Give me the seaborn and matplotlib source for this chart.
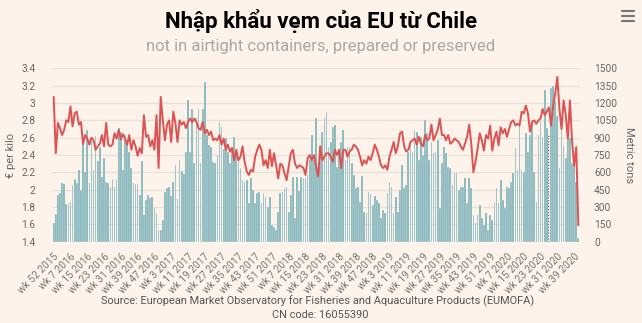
import numpy as np
import pandas as pd
import matplotlib
matplotlib.use("Agg")
import matplotlib.pyplot as plt
from matplotlib.lines import Line2D
import seaborn as sns

# ---------------- data ----------------
tick_labels = [
    "wk 52 2015", "wk 7 2016", "wk 15 2016", "wk 23 2016", "wk 31 2016", "wk 39 2016",
    "wk 47 2016", "wk 3 2017", "wk 11 2017", "wk 19 2017", "wk 27 2017", "wk 35 2017",
    "wk 43 2017", "wk 51 2017", "wk 7 2018", "wk 15 2018", "wk 23 2018", "wk 31 2018",
    "wk 39 2018", "wk 47 2018", "wk 3 2019", "wk 11 2019", "wk 19 2019", "wk 27 2019",
    "wk 35 2019", "wk 43 2019", "wk 51 2019", "wk 7 2020", "wk 15 2020", "wk 23 2020",
    "wk 31 2020", "wk 39 2020",
]

volume_tons = [
    160, 236, 400, 420, 510, 495, 325, 325, 345, 490,
    540, 510, 620, 450, 885, 600, 965, 510, 880, 620,
    915, 700, 820, 560, 720, 520, 510, 470, 540, 470,
    540, 980, 950, 620, 920, 870, 780, 640, 510, 500,
    500, 400, 700, 230, 360, 400, 380, 390, 290, 250,
    100, 100, 185, 430, 465, 470, 395, 518, 662, 369,
    706, 613, 582, 778, 1229, 778, 1152, 677, 1080, 1152,
    677, 1152, 1383, 922, 835, 821, 691, 677, 749, 1037,
    994, 806, 893, 778, 677, 821, 907, 792, 706, 634,
    533, 518, 533, 331, 547, 446, 331, 418, 432, 331,
    418, 389, 302, 389, 144, 130, 101, 259, 418, 432,
    461, 475, 259, 403, 562, 202, 562, 441, 562, 547,
    553, 576, 706, 922, 706, 1066, 562, 806, 950, 1066,
    1123, 821, 864, 994, 1008, 648, 763, 864, 965, 706,
    821, 821, 677, 576, 461, 469, 346, 567, 259, 245,
    432, 412, 317, 395, 360, 331, 202, 274, 245, 418,
    518, 475, 245, 389, 259, 446, 662, 461, 490, 778,
    864, 778, 965, 950, 706, 907, 749, 1051, 936, 706,
    864, 763, 778, 878, 288, 677, 821, 763, 648, 634,
    490, 596, 590, 446, 469, 475, 547, 331, 547, 462,
    231, 159, 231, 318, 202, 145, 246, 101, 231, 188,
    347, 462, 332, 535, 361, 289, 477, 462, 520, 592,
    809, 621, 1012, 621, 607, 939, 780, 925, 1055, 607,
    347, 925, 1040, 910, 1315, 983, 915, 1329, 1344, 1214,
    1084, 636, 983, 824, 723, 925, 896, 679, 737, 520,
    29,
]

price_eur_kg = [
    3.07, 2.42, 2.77, 2.71, 2.63, 2.69, 2.80, 2.78, 2.96, 2.73,
    2.88, 2.90, 2.75, 2.78, 2.53, 2.63, 2.59, 2.52, 2.60, 2.57,
    2.46, 2.50, 2.53, 2.63, 2.50, 2.77, 2.52, 2.50, 2.52, 2.65,
    2.59, 2.69, 2.58, 2.64, 2.59, 2.52, 2.63, 2.46, 2.57, 2.50,
    2.39, 2.48, 2.42, 2.86, 2.61, 2.63, 2.50, 2.57, 2.46, 2.86,
    2.25, 3.07, 2.80, 2.57, 2.75, 2.80, 2.55, 2.90, 2.77, 2.55,
    2.80,
    2.75, 2.78, 2.71, 2.78, 2.82, 2.78, 2.82, 2.78, 2.71, 2.69,
    2.78, 2.65, 2.69, 2.63, 2.67, 2.57, 2.59, 2.57, 2.63, 2.52,
    2.59, 2.46, 2.52, 2.44, 2.48, 2.34, 2.46, 2.34, 2.38, 2.50,
    2.32, 2.21, 2.17, 2.23, 2.21, 2.38, 2.46, 2.52, 2.46, 2.28,
    2.34, 2.25, 2.46, 2.27, 2.42, 2.28, 2.13, 2.30, 2.28, 2.19,
    2.11, 2.27, 2.42, 2.46, 2.30, 2.25, 2.28, 2.27, 2.25, 2.17,
    2.36, 2.40, 2.34, 2.40, 2.28, 2.15, 2.50, 2.34, 2.38, 2.42,
    2.42, 2.38, 2.32, 2.46, 2.40, 2.46, 2.25, 2.46, 2.46, 2.38,
    2.44,
    2.46, 2.52, 2.50, 2.46, 2.38, 2.28, 2.34, 2.30, 2.38, 2.34,
    2.42, 2.52, 2.46, 2.38, 2.28, 2.25, 2.28, 2.23, 2.38, 2.46,
    2.55, 2.42, 2.50, 2.65, 2.67, 2.50, 2.44, 2.46, 2.55, 2.57,
    2.59, 2.52, 2.61, 2.53, 2.50, 2.63, 2.57, 2.59, 2.75, 2.57,
    2.63, 2.69, 2.82, 2.63, 2.63, 2.57, 2.63, 2.53, 2.55, 2.59,
    2.57, 2.55, 2.50, 2.46, 2.53, 2.61, 2.75,
    2.53, 2.20, 2.32, 2.47, 2.65, 2.57, 2.45, 2.63, 2.59, 2.74,
    2.45, 2.59, 2.67, 2.51, 2.72, 2.65, 2.70, 2.61, 2.70, 2.78,
    2.80, 2.74, 2.76, 2.74, 2.90, 2.88, 2.97, 2.88, 2.67, 2.78,
    2.80, 2.76, 2.80, 2.82, 2.93, 2.86, 2.90, 2.95, 2.74, 2.97,
    3.11, 3.30, 2.93, 2.70, 3.03, 2.86, 2.59, 3.03, 2.57, 2.28,
    2.49, 1.59,
]

highlight_week = 236
tick_step = 8

# ---------------- style ----------------
BG = "#fdf3ea"
BAR = "#7fb1b6"
LINE = "#dd5252"
GRID = "#e9e1d9"
TXT = "#666666"

sns.set_theme(style="white")
plt.rcParams["font.family"] = ["Roboto", "DejaVu Sans"]

n = len(volume_tons)
df = pd.DataFrame({"week": np.arange(n), "tons": volume_tons, "price": price_eur_kg[:n]})

W, H = 642, 323
fig = plt.figure(figsize=(W / 100, H / 100), dpi=100, facecolor=BG)
left, right, top, bottom = 52, 580, 68.3, 241.7
ax = fig.add_axes([left / W, 1 - bottom / H, (right - left) / W, (bottom - top) / H])
ax.set_facecolor(BG)

sns.barplot(data=df, x="week", y="tons", ax=ax, color=BAR, saturation=1,
            width=0.8, edgecolor="#fbfaf7", linewidth=0.2, zorder=2)
hp = ax.patches[highlight_week]
hp.set_facecolor(BG)
hp.set_edgecolor("#555555")
hp.set_linestyle(":")
hp.set_linewidth(0.8)

ax2 = ax.twinx()

ax.set_xlim(-0.8, n - 0.2)
ax.set_ylim(0, 1500)
ax.set_yticks(np.arange(0, 1501, 150))
ax.yaxis.tick_right()
ax.yaxis.set_label_position("right")
ax.grid(axis="y", color=GRID, linewidth=0.9, zorder=0)
ax.set_axisbelow(True)
ax.set_xlabel("")
ax.set_ylabel("Metric tons", rotation=270, color=TXT, fontsize=8, labelpad=12)
ticks = np.arange(0, n, tick_step)[:len(tick_labels)]
ax.set_xticks(ticks)
ax.set_xticklabels(tick_labels, rotation=45, ha="right", rotation_mode="anchor",
                   fontsize=7.3, color="#777777")
ax.tick_params(axis="x", length=0, pad=7)
ax.tick_params(axis="y", length=0, pad=10, labelsize=7.3, labelcolor=TXT,
               left=False, labelleft=False, right=False, labelright=True)
for s in ax.spines.values():
    s.set_visible(False)

sns.lineplot(data=df, x="week", y="price", ax=ax2, color=LINE, linewidth=1.4, zorder=3)
ax2.set_ylim(1.4, 3.4)
pt = np.round(np.arange(1.4, 3.41, 0.2), 1)
ax2.set_yticks(pt)
ax2.set_yticklabels([("%g" % v) for v in pt])
ax2.yaxis.tick_left()
ax2.yaxis.set_label_position("left")
ax2.set_ylabel("€ per kilo", color=TXT, fontsize=8, labelpad=4)
ax2.tick_params(axis="y", length=0, pad=12, labelsize=7.3, labelcolor=TXT,
                right=False, labelright=False, left=False, labelleft=True)
ax2.set_xlabel("")
ax2.grid(False)
for s in ax2.spines.values():
    s.set_visible(False)
ax2.set_xlim(-0.8, n - 0.2)

# ---------------- texts ----------------
fig.text(0.5, 1 - 21 / H, "Nhập khẩu vẹm của EU từ Chile", ha="center", va="center",
         fontsize=16, fontweight="bold", color="black")
fig.text(0.5, 1 - 46 / H, "not in airtight containers, prepared or preserved", ha="center",
         va="center", fontsize=12, color="#a8a8a8")
fig.text(318 / W, 1 - 301 / H,
         "Source: European Market Observatory for Fisheries and Aquaculture Products (EUMOFA)",
         ha="center", va="center", fontsize=7.9, color="#555555")
fig.text(320 / W, 1 - 315 / H, "CN code: 16055390", ha="center", va="center",
         fontsize=7.9, color="#555555")

# menu icon
for yy in (11, 16, 21):
    fig.add_artist(Line2D([622 / W, 634 / W], [1 - yy / H, 1 - yy / H],
                          color="#777777", linewidth=1.6, transform=fig.transFigure))

fig.savefig("out.png", dpi=100, facecolor=BG)
